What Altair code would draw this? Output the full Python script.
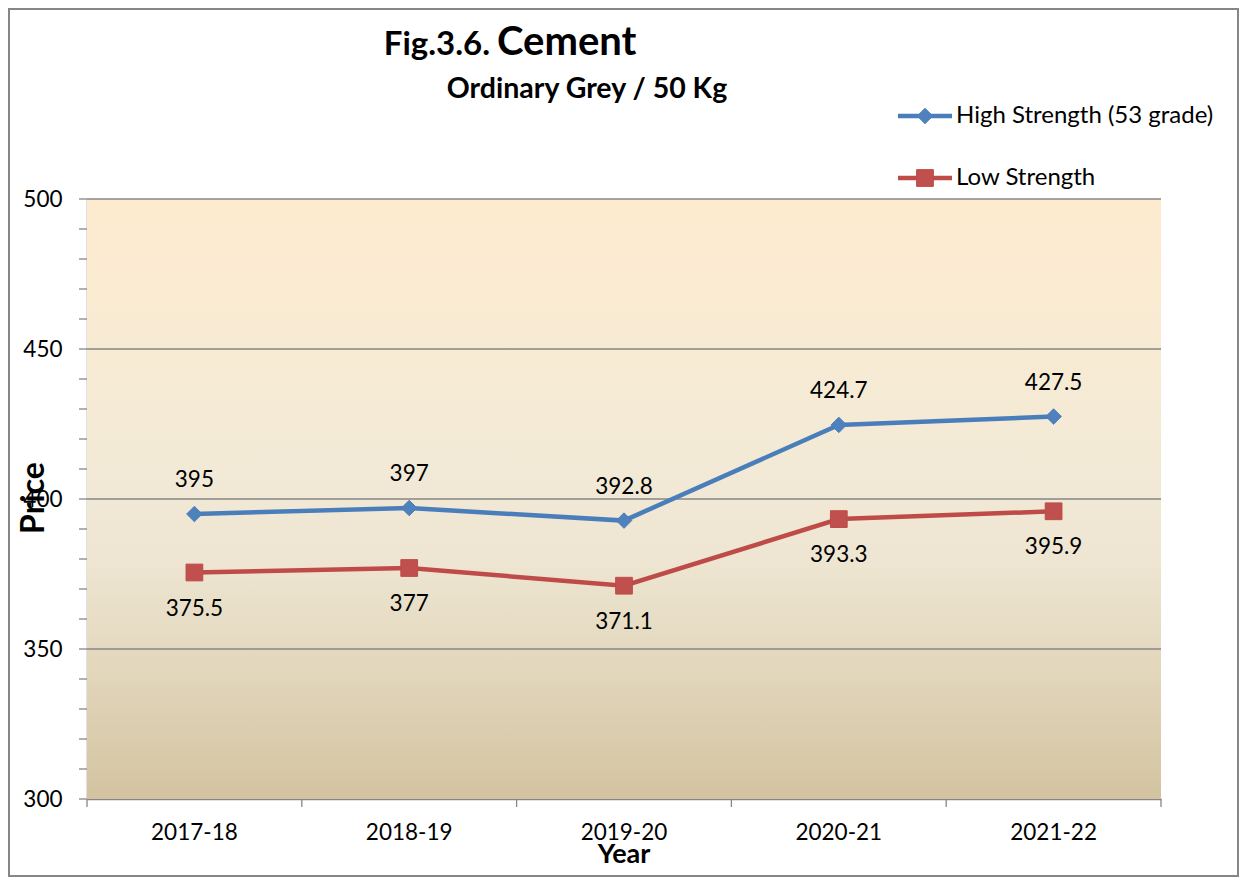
import altair as alt
import pandas as pd

# ---------------- data ----------------
years = ["2017-18", "2018-19", "2019-20", "2020-21", "2021-22"]
high = [395, 397, 392.8, 424.7, 427.5]
low = [375.5, 377, 371.1, 393.3, 395.9]
high_labels = ["395", "397", "392.8", "424.7", "427.5"]
low_labels = ["375.5", "377", "371.1", "393.3", "395.9"]
series_names = ["High Strength (53 grade)", "Low Strength"]
y_major = [300, 350, 400, 450, 500]
y_grid = [350, 400, 450, 500]
y_all_ticks = [300, 310, 320, 330, 340, 350, 360, 370, 380, 390, 400,
               410, 420, 430, 440, 450, 460, 470, 480, 490, 500]
title_main = "Fig.3.6."
title_word = "Cement"
subtitle = "Ordinary Grey / 50 Kg"
x_title = "Year"
y_title = "Price"

# ---------------- style ----------------
W, H = 1074, 600
FONT = "Lato"
BLUE_LINE, BLUE_FILL = "#4A7EBB", "#4F81BD"
RED_LINE, RED_FILL = "#BE4B48", "#C0504D"
GRAY = "#868686"

df = pd.DataFrame({
    "year": years * 2,
    "value": high + low,
    "label": high_labels + low_labels,
    "series": [series_names[0]] * 5 + [series_names[1]] * 5,
})
df_high = df[df["series"] == series_names[0]]
df_low = df[df["series"] == series_names[1]]

xscale = alt.Scale(type="band", domain=years, paddingInner=0, paddingOuter=0)
yscale = alt.Scale(domain=[300, 500], nice=False, zero=False)

xaxis = alt.Axis(title=None, ticks=False, tickSize=0, labelFont=FONT, labelFontSize=22.5,
                 labelColor="black", labelPadding=22, domainColor=GRAY, domainWidth=1.5,
                 grid=False, labelAngle=0)
yaxis = alt.Axis(title=None, values=y_major, ticks=False, tickSize=8, labelFont=FONT,
                 labelFontSize=22.5, labelColor="black", labelPadding=25, domainColor=GRAY,
                 domainWidth=1.5, grid=False, format="d")

X = lambda: alt.X("year:N", scale=xscale, axis=xaxis)
Y = lambda f="value:Q": alt.Y(f, scale=yscale, axis=yaxis)

one = pd.DataFrame({"a": [0]})

# background gradient
bg = alt.Chart(one).mark_rect(fill={
    "gradient": "linear", "x1": 0, "y1": 0, "x2": 0, "y2": 1,
    "stops": [
        {"offset": 0, "color": "#FEEBD0"},
        {"offset": 0.45, "color": "#F2EAD6"},
        {"offset": 0.6, "color": "#EEE6D2"},
        {"offset": 0.8, "color": "#E1D5BA"},
        {"offset": 1, "color": "#D3C3A0"},
    ],
}).encode(x=alt.value(0), x2=alt.value(W), y=alt.value(0), y2=alt.value(H))

grid = alt.Chart(pd.DataFrame({"v": y_grid})).mark_rule(color=GRAY, strokeWidth=1.3).encode(
    y=Y("v:Q"))

yticks = alt.Chart(pd.DataFrame({"v": y_all_ticks})).mark_rule(color=GRAY, strokeWidth=1.3).encode(
    y=Y("v:Q"), x=alt.value(-8), x2=alt.value(0))

xticks = alt.Chart(pd.DataFrame({"year": years})).mark_rule(color=GRAY, strokeWidth=1.3).encode(
    x=alt.X("year:N", scale=xscale, axis=xaxis, bandPosition=0),
    y=alt.value(H), y2=alt.value(H + 8))
xtick_end = alt.Chart(one).mark_rule(color=GRAY, strokeWidth=1.3).encode(
    x=alt.value(W), y=alt.value(H), y2=alt.value(H + 8))

color = alt.Color("series:N", scale=alt.Scale(domain=series_names, range=[BLUE_LINE, RED_LINE]),
                  legend=None)

lines = alt.Chart(df).mark_line(strokeWidth=4.5).encode(x=X(), y=Y(), color=color, detail="series:N")

pts_high = alt.Chart(df_high).mark_point(shape="diamond", filled=True, size=240, fill=BLUE_FILL,
                                         stroke=BLUE_LINE, strokeWidth=1, opacity=1).encode(x=X(), y=Y())
pts_low = alt.Chart(df_low).mark_point(shape="square", filled=True, size=280, fill=RED_FILL,
                                       stroke=RED_LINE, strokeWidth=1, opacity=1).encode(x=X(), y=Y())

lab_high = alt.Chart(df_high).mark_text(font=FONT, fontSize=22.5, color="black", dy=-34,
                                        baseline="middle").encode(x=X(), y=Y(), text="label:N")
lab_low = alt.Chart(df_low).mark_text(font=FONT, fontSize=22.5, color="black", dy=36,
                                      baseline="middle").encode(x=X(), y=Y(), text="label:N")

# titles
t1 = alt.Chart(pd.DataFrame({"t": [title_main]})).mark_text(
    font=FONT, fontWeight="bold", fontSize=33, align="right", baseline="alphabetic", color="black"
).encode(x=alt.value(403), y=alt.value(-144), text="t:N")
t2 = alt.Chart(pd.DataFrame({"t": [title_word]})).mark_text(
    font=FONT, fontWeight="bold", fontSize=40, align="left", baseline="alphabetic", color="black"
).encode(x=alt.value(410), y=alt.value(-144), text="t:N")
t3 = alt.Chart(pd.DataFrame({"t": [subtitle]})).mark_text(
    font=FONT, fontWeight="bold", fontSize=28.5, align="center", baseline="alphabetic", color="black"
).encode(x=alt.value(500), y=alt.value(-101), text="t:N")

xt = alt.Chart(pd.DataFrame({"t": [x_title]})).mark_text(
    font=FONT, fontWeight="bold", fontSize=27, align="center", baseline="middle", color="black"
).encode(x=alt.value(537), y=alt.value(656), text="t:N")
yt = alt.Chart(pd.DataFrame({"t": [y_title]})).mark_text(
    font=FONT, fontWeight="bold", fontSize=32, align="center", baseline="middle", angle=270,
    color="black"
).encode(x=alt.value(-53), y=alt.value(299), text="t:N")

# legend
leg = []
for name, yv, lc, fc, shp, sz in [(series_names[0], -83, BLUE_LINE, BLUE_FILL, "diamond", 240),
                                  (series_names[1], -21, RED_LINE, RED_FILL, "square", 280)]:
    d = pd.DataFrame({"t": [name]})
    leg.append(alt.Chart(d).mark_rule(color=lc, strokeWidth=4.5).encode(
        x=alt.value(811), x2=alt.value(865), y=alt.value(yv)))
    leg.append(alt.Chart(d).mark_point(shape=shp, filled=True, size=sz, fill=fc, stroke=lc,
                                       strokeWidth=1, opacity=1).encode(
        x=alt.value(838), y=alt.value(yv)))
    leg.append(alt.Chart(d).mark_text(font=FONT, fontSize=24, align="left", baseline="middle",
                                      color="black").encode(
        x=alt.value(869), y=alt.value(yv), text="t:N"))

border = alt.Chart(one).mark_rect(fill="transparent", stroke=GRAY, strokeWidth=2).encode(
    x=alt.value(-78), x2=alt.value(1151), y=alt.value(-190), y2=alt.value(677))

chart = alt.layer(
    bg, grid, yticks, xticks, xtick_end, lines, pts_high, pts_low, lab_high, lab_low,
    t1, t2, t3, xt, yt, *leg, border
).properties(
    width=W, height=H,
    autosize=alt.AutoSizeParams(type="none"),
    padding={"left": 79, "top": 191, "right": 78, "bottom": 78},
    background="white",
).configure_view(stroke=None)

chart.save("out.html", embed_options={"renderer": "svg", "actions": False})
